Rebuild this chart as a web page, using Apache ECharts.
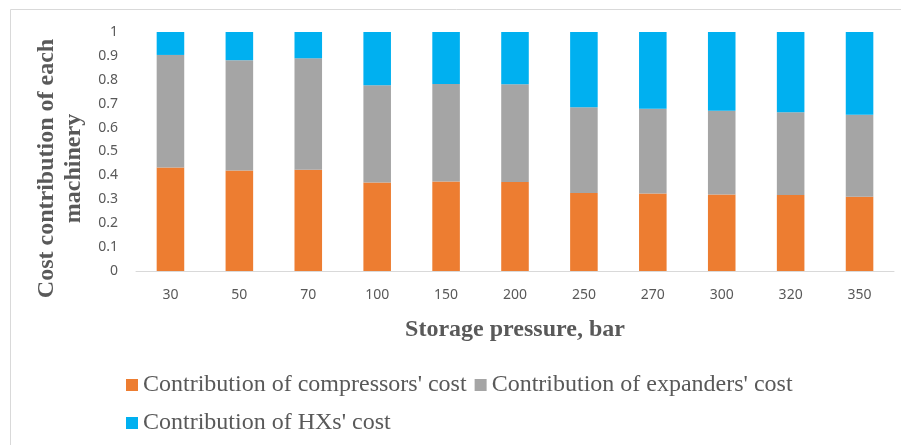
<!DOCTYPE html>
<html>
<head>
<meta charset="utf-8">
<script src="https://cdn.jsdelivr.net/npm/echarts@6/dist/echarts.min.js"></script>
<style>
html,body{margin:0;padding:0;background:#fff;}
#chart{width:901px;height:445px;}
</style>
</head>
<body>
<div id="chart"></div>
<script>
const categories = ['30','50','70','100','150','200','250','270','300','320','350'];
const compressors = [0.433,0.420,0.424,0.370,0.374,0.372,0.326,0.324,0.320,0.318,0.311];
const expanders   = [0.471,0.462,0.466,0.407,0.408,0.409,0.359,0.355,0.351,0.346,0.343];
const hxs         = [0.096,0.118,0.110,0.223,0.218,0.219,0.315,0.321,0.329,0.336,0.346];
const seriesNames = ["Contribution of compressors' cost","Contribution of expanders' cost","Contribution of HXs' cost"];
const colors = ['#ED7D31','#A5A5A5','#00B0F0'];

const chart = echarts.init(document.getElementById('chart'), null, {renderer:'canvas'});
const serif = '"Liberation Serif","Times New Roman",serif';
const sans = '"Noto Sans","Liberation Sans",sans-serif';
const makeSeries = (name, data, color) => ({
  name, type:'bar', stack:'total', data, barWidth:'40%',
  itemStyle:{color}, emphasis:{disabled:true}
});
chart.setOption({
  animation:false,
  color: colors,
  graphic:[{type:'rect', shape:{x:10.5,y:9.5,width:1000,height:1000}, style:{fill:'none',stroke:'#D9D9D9',lineWidth:1}, silent:true}],
  grid:{left:136, right:7, top:32, bottom:174, containLabel:false},
  legend:{
    left:121, top:365, width:720, itemWidth:12, itemHeight:12, itemGap:8, icon:'rect',
    textStyle:{fontFamily:serif, fontSize:24, color:'#595959', lineHeight:30},
    data: seriesNames
  },
  xAxis:{
    type:'category', data:categories,
    axisLine:{lineStyle:{color:'#D9D9D9', width:1}},
    axisTick:{show:false},
    axisLabel:{color:'#595959', fontFamily:sans, fontSize:14, margin:17},
    name:'Storage pressure, bar', nameLocation:'middle', nameGap:47,
    nameTextStyle:{fontFamily:serif, fontWeight:'bold', fontSize:24, color:'#595959'}
  },
  yAxis:{
    type:'value', min:0, max:1, interval:0.1,
    axisLine:{show:false}, axisTick:{show:false}, splitLine:{show:false},
    axisLabel:{color:'#595959', fontFamily:sans, fontSize:14, margin:18},
    name:'Cost contribution of each\nmachinery', nameLocation:'middle', nameGap:49, nameRotate:90,
    nameTextStyle:{fontFamily:serif, fontWeight:'bold', fontSize:24, color:'#595959', lineHeight:27, padding:[0,34,0,0]}
  },
  series:[
    makeSeries(seriesNames[0], compressors, colors[0]),
    makeSeries(seriesNames[1], expanders, colors[1]),
    makeSeries(seriesNames[2], hxs, colors[2])
  ]
});
</script>
</body>
</html>
